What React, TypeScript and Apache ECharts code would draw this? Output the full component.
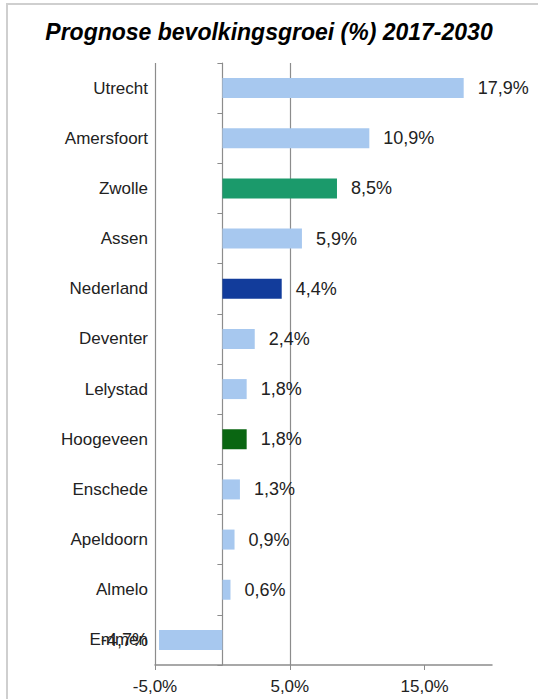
import React, { useEffect, useRef } from "react";
import * as echarts from "echarts";

const categories = [
  "Utrecht",
  "Amersfoort",
  "Zwolle",
  "Assen",
  "Nederland",
  "Deventer",
  "Lelystad",
  "Hoogeveen",
  "Enschede",
  "Apeldoorn",
  "Almelo",
  "Emmen",
];
const values = [17.9, 10.9, 8.5, 5.9, 4.4, 2.4, 1.8, 1.8, 1.3, 0.9, 0.6, -4.7];
const xTickValues = [-5, 5, 15];
const xMin = -5;
const xMax = 20;

const defaultColor = "#a7c8ef";
const highlightColors: Record<string, string> = {
  Zwolle: "#1b9a6b",
  Nederland: "#123c9b",
  Hoogeveen: "#0a6612",
};

const fmt = (v: number) => v.toFixed(1).replace(".", ",") + "%";
const FONT = "'Liberation Sans', Arial, Helvetica, sans-serif";

export default function App() {
  const ref = useRef<HTMLDivElement>(null);
  useEffect(() => {
    if (!ref.current) return;
    const chart = echarts.init(ref.current, undefined, { renderer: "svg" });
    const data = values.map((v, i) => ({
      value: v,
      itemStyle: { color: highlightColors[categories[i]] || defaultColor },
      label:
        v < 0
          ? { position: "left" as const, distance: 11 }
          : { position: "right" as const, distance: 14 },
    }));
    chart.setOption({
      animation: false,
      backgroundColor: "#ffffff",
      title: {
        text: "Prognose bevolkingsgroei (%) 2017-2030",
        left: "center",
        top: 15,
        textStyle: {
          fontFamily: FONT,
          fontStyle: "italic",
          fontWeight: "bold",
          fontSize: 23,
          color: "#000000",
        },
      },
      graphic: [
        {
          type: "rect",
          shape: { x: 7, y: 4, width: 700, height: 900 },
          style: { fill: "none", stroke: "#cfcfcf", lineWidth: 2 },
          silent: true,
          z: -1,
        },
      ],
      grid: { left: 155, right: 46, top: 63, bottom: 34, containLabel: false },
      xAxis: {
        type: "value",
        min: xMin,
        max: xMax,
        interval: 10,
        axisLine: { show: true, lineStyle: { color: "#8c8c8c", width: 1.5 } },
        axisTick: {
          show: true,
          length: 5,
          customValues: xTickValues,
          lineStyle: { color: "#8c8c8c" },
        },
        axisLabel: {
          customValues: xTickValues,
          formatter: (v: number) => fmt(v),
          fontFamily: FONT,
          fontSize: 17,
          color: "#222222",
          margin: 13,
        },
        splitLine: {
          show: true,
          showMaxLine: false,
          lineStyle: { color: "#8c8c8c", width: 1.2 },
        },
      },
      yAxis: [
        {
          type: "category",
          data: categories,
          inverse: true,
          axisLine: { show: false, onZero: false },
          axisTick: { show: false },
          axisLabel: {
            fontFamily: FONT,
            fontSize: 17,
            color: "#222222",
            margin: 7,
          },
        },
        {
          type: "category",
          data: categories,
          inverse: true,
          position: "left",
          axisLine: { show: true, onZero: true, lineStyle: { color: "#8c8c8c", width: 1.2 } },
          axisTick: { show: true, length: 5, lineStyle: { color: "#8c8c8c" } },
          axisLabel: { show: false },
        },
      ],
      series: [
        {
          type: "bar",
          yAxisIndex: 0,
          barWidth: 20,
          data,
          label: {
            show: true,
            formatter: (p: any) => fmt(p.value),
            fontFamily: FONT,
            fontSize: 18,
            color: "#222222",
          },
        },
      ],
    });
    return () => chart.dispose();
  }, []);
  return (
    <div
      ref={ref}
      style={{ position: "absolute", left: 0, top: 0, width: 538, height: 699, background: "#fff" }}
    />
  );
}
